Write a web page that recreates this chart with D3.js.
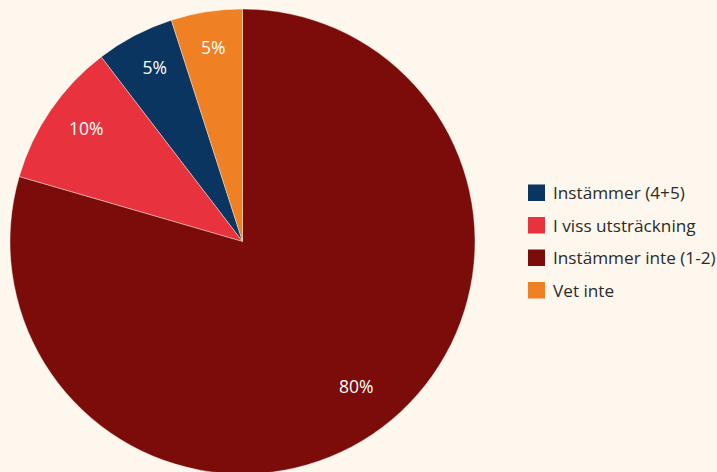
<!DOCTYPE html>
<meta charset="utf-8">
<html>
<head>
<title>Pie</title>
<style>
  body { margin: 0; background: #fdf7ed; }
  svg { display: block; font-family: "Open Sans", "Noto Sans", sans-serif; }
</style>
</head>
<body>
<script src="https://d3js.org/d3.v7.min.js"></script>
<svg width="717" height="472"></svg>
<script>
    // legend order
    var categories = ["Instämmer (4+5)", "I viss utsträckning", "Instämmer inte (1-2)", "Vet inte"];
    var values = [5.45, 10.1, 79.5, 4.95];
    var colors = ["#0b3561", "#e8333f", "#7b0c0a", "#f08024"];
    // drawing order, clockwise from 12 o'clock
    var drawOrder = ["Instämmer inte (1-2)", "I viss utsträckning", "Instämmer (4+5)", "Vet inte"];

    var svg = d3.select("svg"),
        cx = 242.5, cy = 241.5,
        radius = 232.5;

    var data = categories.map(function(c, i) {
        return { name: c, value: values[i] };
    });

    var color = d3.scaleOrdinal().domain(categories).range(colors);

    var pie = d3.pie()
        .value(function(d) { return d.value; })
        .sort(function(a, b) { return drawOrder.indexOf(a.name) - drawOrder.indexOf(b.name); });

    var arc = d3.arc().innerRadius(0).outerRadius(radius);
    var labelArc = d3.arc().innerRadius(radius * 0.815).outerRadius(radius * 0.815);

    var g = svg.append("g").attr("transform", "translate(" + cx + "," + cy + ")");
    var arcs = pie(data);

    g.selectAll("path")
        .data(arcs)
        .enter().append("path")
        .attr("d", arc)
        .attr("fill", function(d) { return color(d.data.name); })
        .attr("stroke", "#fdf7ed")
        .attr("stroke-width", 0.4);

    g.selectAll("text")
        .data(arcs)
        .enter().append("text")
        .attr("transform", function(d) { return "translate(" + labelArc.centroid(d) + ")"; })
        .attr("text-anchor", "middle")
        .attr("fill", "#ffffff")
        .attr("font-size", 17.5)
        .text(function(d) { return Math.round(d.data.value) + "%"; });

    var legend = svg.append("g").attr("transform", "translate(528,184.5)");
    var item = legend.selectAll("g")
        .data(categories)
        .enter().append("g")
        .attr("transform", function(d, i) { return "translate(0," + (i * 32.5) + ")"; });

    item.append("rect")
        .attr("width", 17).attr("height", 16.5)
        .attr("fill", function(d) { return color(d); });

    item.append("text")
        .attr("x", 25).attr("y", 8.5)
        .attr("dy", "0.35em")
        .attr("font-size", 17.2)
        .attr("fill", "#2b2b2b")
        .text(function(d) { return d; });
</script>
</body>
</html>
